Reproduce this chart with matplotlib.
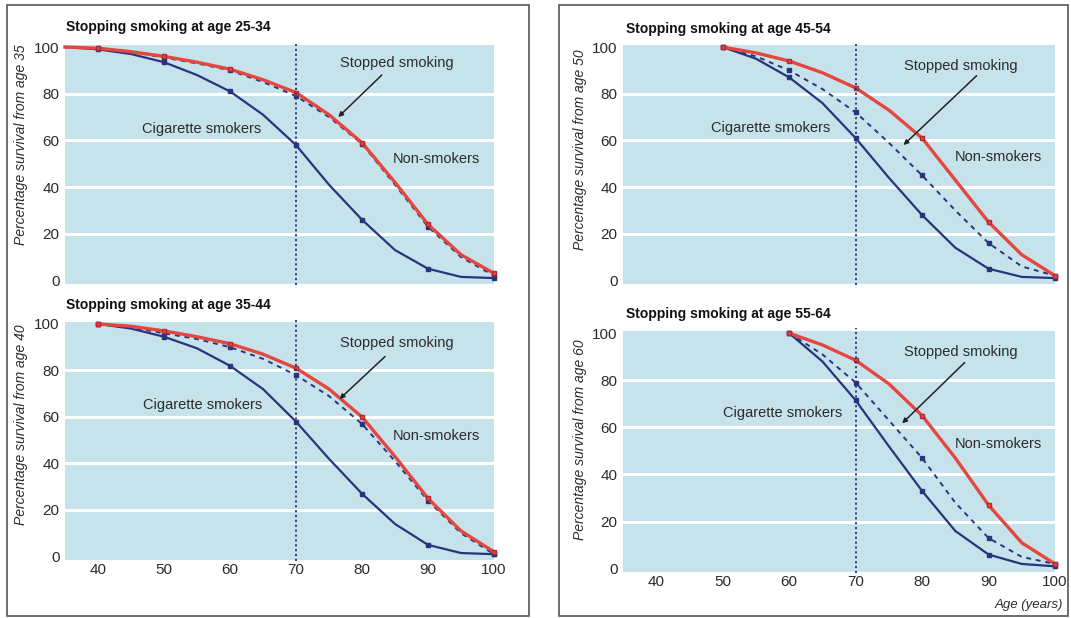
import matplotlib
matplotlib.use("Agg")
import matplotlib.pyplot as plt
from matplotlib.patches import Rectangle

# ---- data (percentage surviving, 5-year steps) ----
TITLES = ["Stopping smoking at age 25-34", "Stopping smoking at age 35-44",
          "Stopping smoking at age 45-54", "Stopping smoking at age 55-64"]
YLABELS = ["Percentage survival from age 35", "Percentage survival from age 40",
           "Percentage survival from age 50", "Percentage survival from age 60"]

AGES_A = [35, 40, 45, 50, 55, 60, 65, 70, 75, 80, 85, 90, 95, 100]
NONSMOKERS_A = [100, 99.5, 98, 96, 93.5, 90.5, 86, 80.5, 71, 59, 42, 24, 11, 3]
SMOKERS_A = [100, 99, 97, 93.5, 88, 81, 71, 58, 41, 26, 13, 5, 1.5, 1]
STOPPED_A = [100, 99.5, 98, 95.5, 93, 90, 85, 79, 70, 58.5, 41, 23, 10, 2]

AGES_B = [40, 45, 50, 55, 60, 65, 70, 75, 80, 85, 90, 95, 100]
NONSMOKERS_B = [100, 99, 97, 94.5, 91.5, 87, 81, 72, 60, 43, 25, 11, 2]
SMOKERS_B = [100, 98, 94.5, 89.5, 82, 72, 58, 42, 27, 14, 5, 1.5, 1]
STOPPED_B = [100, 98.5, 96, 93.5, 90, 85, 78, 69, 57, 41, 24, 10, 1]

AGES_C = [50, 55, 60, 65, 70, 75, 80, 85, 90, 95, 100]
NONSMOKERS_C = [100, 97.5, 94, 89, 82.5, 73, 61, 43, 25, 11, 2]
SMOKERS_C = [100, 95, 87, 76, 61, 44, 28, 14, 5, 1.5, 1]
STOPPED_C = [100, 96, 90, 82, 72, 59, 45, 30, 16, 6, 2]

AGES_D = [60, 65, 70, 75, 80, 85, 90, 95, 100]
NONSMOKERS_D = [100, 95, 88.5, 78.5, 65, 47, 27, 11, 2]
SMOKERS_D = [100, 88, 71.5, 52, 33, 16, 6, 2, 1]
STOPPED_D = [100, 91, 79, 63, 47, 28, 13, 5, 2]

X_TICKS = [40, 50, 60, 70, 80, 90, 100]
Y_TICKS = [0, 20, 40, 60, 80, 100]
QUIT_AGE = 70

PANELS = [
    (AGES_A, NONSMOKERS_A, SMOKERS_A, STOPPED_A),
    (AGES_B, NONSMOKERS_B, SMOKERS_B, STOPPED_B),
    (AGES_C, NONSMOKERS_C, SMOKERS_C, STOPPED_C),
    (AGES_D, NONSMOKERS_D, SMOKERS_D, STOPPED_D),
]

# ---- layout / style ----
W, H = 1071, 618
# axes rectangles in pixels: left, top, right, bottom
AX_PIX = [
    (65, 44.7, 494, 283.9),
    (65, 321.6, 494, 560.0),
    (623, 44.7, 1055, 283.9),
    (623, 330.8, 1055, 572.2),
]
TITLE_PIX = [(66, 27), (66, 305), (626, 29), (626, 314)]
YLAB_PIX = [(21, 145), (21, 425), (580, 150), (580, 440)]
# label positions in data coords
STOP_TXT = [(85.3, 93), (85.3, 92), (85.9, 92), (85.9, 92)]
STOP_ARROW = [((83, 88), (76.4, 70)), ((83.5, 86), (76.6, 67.7)),
              ((88.2, 87.7), (77.2, 58)), ((86.4, 87.5), (77.0, 61.7))]
CIG_TXT = [(55.7, 65), (55.9, 65), (57.2, 65.5), (59.0, 66)]
NON_TXT = [(91.2, 52), (91.2, 52), (91.5, 53), (91.5, 53)]

BG = "#c6e3eb"
RED = "#e5463f"
NAVY = "#28357d"
TXT = "#2b2b2b"

plt.rcParams.update({"font.family": ["Liberation Sans", "DejaVu Sans"]})

fig = plt.figure(figsize=(W / 100, H / 100), dpi=100)

# outer frames
for x0, x1 in [(7, 529), (559, 1068)]:
    fig.add_artist(Rectangle((x0 / W, 1 - 616 / H), (x1 - x0) / W, (616 - 5) / H,
                             transform=fig.transFigure, fill=False,
                             edgecolor="#555555", linewidth=1.2))

for i, (ages, non, smk, stp) in enumerate(PANELS):
    l, t, r, b = AX_PIX[i]
    ax = fig.add_axes([l / W, 1 - b / H, (r - l) / W, (b - t) / H])
    ax.set_facecolor(BG)
    ax.set_xlim(35, 100)
    ax.set_ylim(-1.5, 101)
    for s in ax.spines.values():
        s.set_visible(False)
    for y in Y_TICKS[1:-1]:
        ax.axhline(y, color="white", linewidth=2.2, zorder=1)

    marks = [a % 10 == 0 for a in ages]
    ax.plot(ages, smk, color=NAVY, linewidth=1.6, marker="s", markersize=3,
            markevery=marks, zorder=3, clip_on=False)
    ax.plot(ages, stp, color=NAVY, linewidth=1.4, linestyle=(0, (2.5, 2.5)),
            marker="s", markersize=3, markevery=marks, zorder=4, clip_on=False)
    ax.plot(ages, non, color=RED, linewidth=2.4, marker="s", markersize=3.5,
            markeredgecolor="#b02a30", markevery=marks, zorder=5, clip_on=False)

    ax.plot([QUIT_AGE, QUIT_AGE], [-2, 102], color=NAVY, linewidth=1.3,
            linestyle=(0, (1.2, 1.5)), zorder=6, clip_on=False)

    ax.set_yticks(Y_TICKS)
    ax.set_yticklabels([str(v) for v in Y_TICKS], fontsize=11, color=TXT)
    ax.tick_params(axis="y", length=0, pad=4)
    ax.tick_params(axis="x", length=0, pad=2)
    if i in (1, 3):
        ax.set_xticks(X_TICKS)
        ax.set_xticklabels([str(v) for v in X_TICKS], fontsize=11, color=TXT)
    else:
        ax.set_xticks([])

    ax.text(*STOP_TXT[i], "Stopped smoking", fontsize=10.5, color=TXT,
            ha="center", va="center", zorder=7)
    (x0, y0), (x1, y1) = STOP_ARROW[i]
    ax.annotate("", xy=(x1, y1), xytext=(x0, y0),
                arrowprops=dict(arrowstyle="-|>", color="#222222", lw=1.1,
                                mutation_scale=7, shrinkA=0, shrinkB=0), zorder=7)
    ax.text(*CIG_TXT[i], "Cigarette smokers", fontsize=10.5, color=TXT,
            ha="center", va="center", zorder=7)
    ax.text(*NON_TXT[i], "Non-smokers", fontsize=10.5, color=TXT,
            ha="center", va="center", zorder=7)

    tx, ty = TITLE_PIX[i]
    fig.text(tx / W, 1 - ty / H, TITLES[i], fontsize=10, fontweight="bold",
             color="#111111", ha="left", va="center")
    yx, yy = YLAB_PIX[i]
    fig.text(yx / W, 1 - yy / H, YLABELS[i], fontsize=10, style="italic",
             color=TXT, rotation=90, ha="center", va="center")

fig.text(1063 / W, 1 - 605 / H, "Age (years)", fontsize=9.5, style="italic",
         color=TXT, ha="right", va="center")

fig.savefig("out.png", dpi=100)
